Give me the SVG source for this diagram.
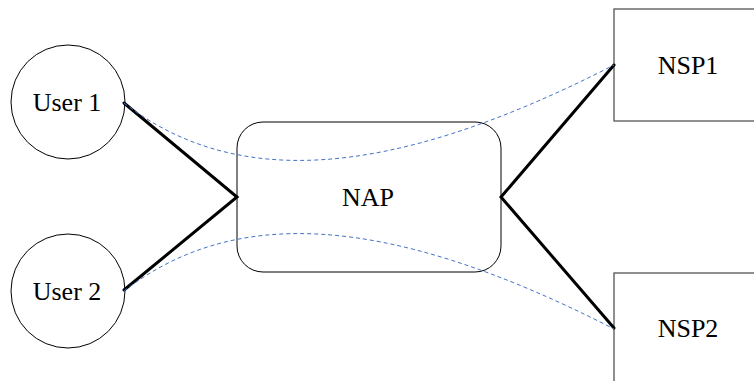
<svg xmlns="http://www.w3.org/2000/svg" width="754" height="381" viewBox="0 0 754 381">
<style>
text{font-family:"Liberation Serif","Times New Roman",serif;font-size:26px;fill:#000;text-anchor:middle;dominant-baseline:central}
.node{fill:#fff;stroke:#000;stroke-width:1}
.box{fill:#fff;stroke:#555;stroke-width:1.3}
.link{fill:none;stroke:#000;stroke-width:3;stroke-linecap:round;stroke-linejoin:miter}
.path{fill:none;stroke:#4472C4;stroke-width:1;stroke-dasharray:4 3}
</style>
<rect width="754" height="381" fill="#fff"/>
<g id="user1"><circle class="node" cx="68" cy="102" r="57"/><text x="67" y="102">User 1</text></g>
<g id="user2"><circle class="node" cx="68" cy="291" r="57"/><text x="67" y="291">User 2</text></g>
<g id="nap"><rect class="node" x="237" y="122" width="264" height="150" rx="26" ry="26" stroke="#222"/><text x="368" y="197">NAP</text></g>
<g id="nsp1"><rect class="box" x="614" y="9" width="150" height="112"/><text x="688" y="65">NSP1</text></g>
<g id="nsp2"><rect class="box" x="614" y="273" width="150" height="120"/><text x="688" y="328">NSP2</text></g>
<g id="connectors">
<polyline class="link" points="124,103 237,197 124,290"/>
<polyline class="link" points="614,65 501,197 614,328"/>
<path class="path" d="M124,103 C230,185 380,185 614,65"/>
<path class="path" d="M124,291 C230,209 380,209 614,329"/>
</g>
</svg>
